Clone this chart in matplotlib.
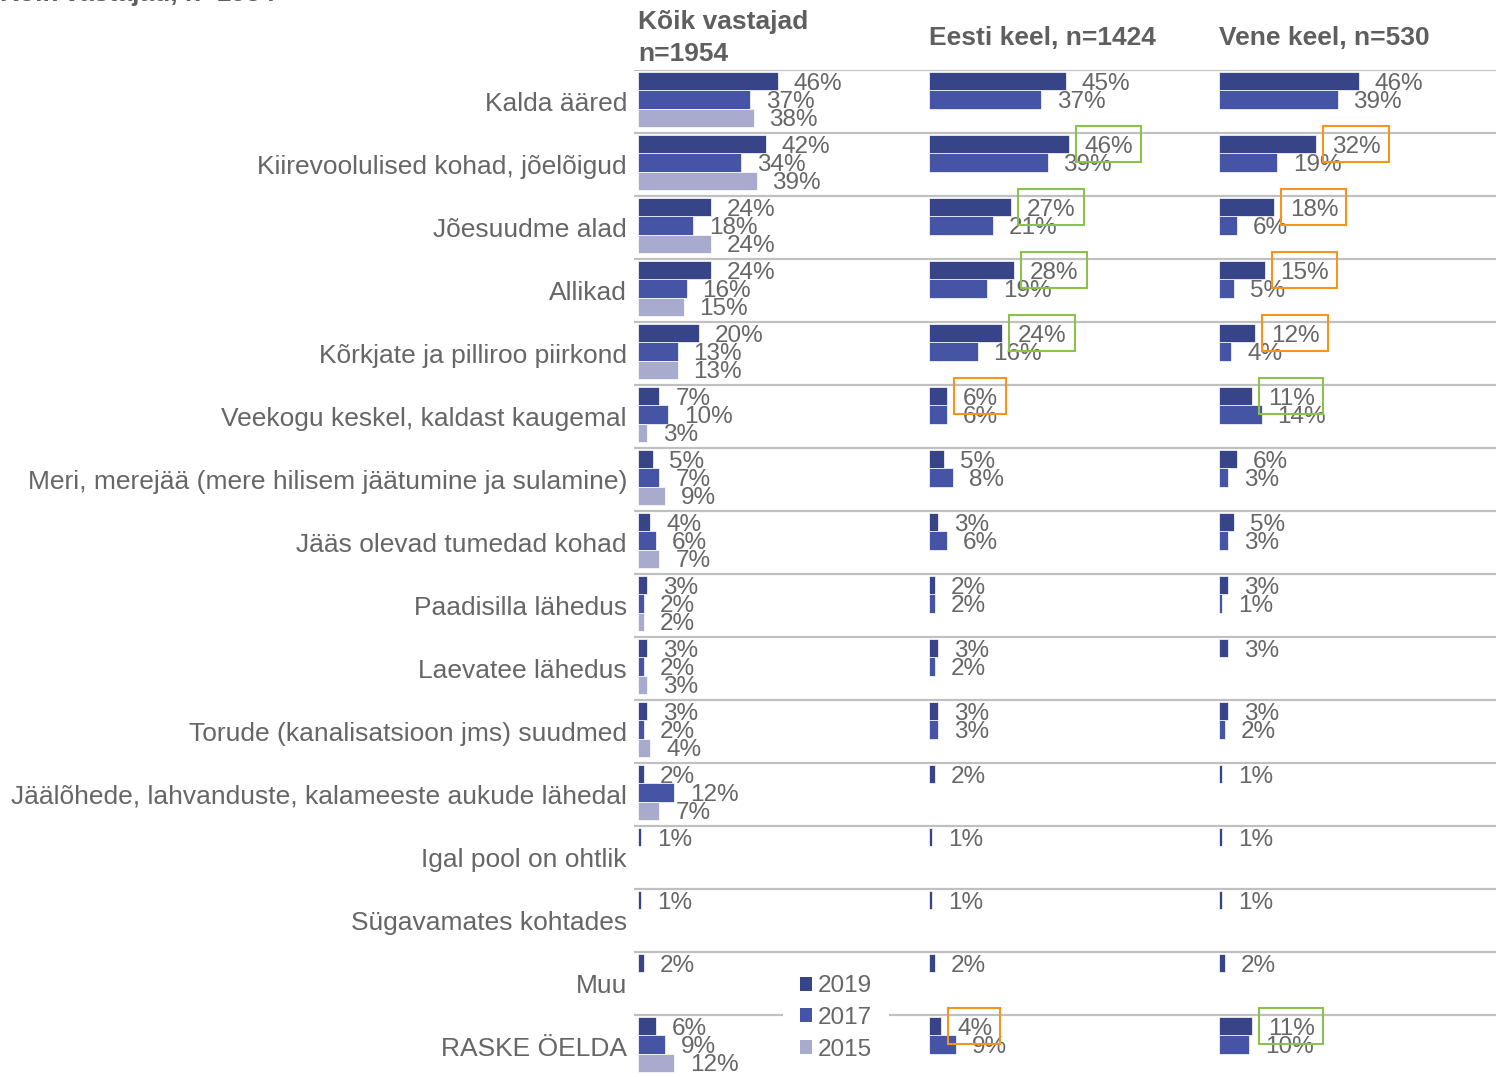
import matplotlib
matplotlib.use("Agg")
import matplotlib.pyplot as plt
from matplotlib.patches import Patch, Rectangle

plt.rcParams['font.family'] = ['Liberation Sans', 'DejaVu Sans']

categories = [
    "Kalda ääred",
    "Kiirevoolulised kohad, jõelõigud",
    "Jõesuudme alad",
    "Allikad",
    "Kõrkjate ja pilliroo piirkond",
    "Veekogu keskel, kaldast kaugemal",
    "Meri, merejää (mere hilisem jäätumine ja sulamine)",
    "Jääs olevad tumedad kohad",
    "Paadisilla lähedus",
    "Laevatee lähedus",
    "Torude (kanalisatsioon jms) suudmed",
    "Jäälõhede, lahvanduste, kalameeste aukude lähedal",
    "Igal pool on ohtlik",
    "Sügavamates kohtades",
    "Muu",
    "RASKE ÖELDA",
]
years = ["2019", "2017", "2015"]

# Kõik vastajad
all_2019 = [46, 42, 24, 24, 20, 7, 5, 4, 3, 3, 3, 2, 1, 1, 2, 6]
all_2017 = [37, 34, 18, 16, 13, 10, 7, 6, 2, 2, 2, 12, None, None, None, 9]
all_2015 = [38, 39, 24, 15, 13, 3, 9, 7, 2, 3, 4, 7, None, None, None, 12]
# Eesti keel
est_2019 = [45, 46, 27, 28, 24, 6, 5, 3, 2, 3, 3, 2, 1, 1, 2, 4]
est_2017 = [37, 39, 21, 19, 16, 6, 8, 6, 2, 2, 3, None, None, None, None, 9]
# Vene keel
rus_2019 = [46, 32, 18, 15, 12, 11, 6, 5, 3, 3, 3, 1, 1, 1, 2, 11]
rus_2017 = [39, 19, 6, 5, 4, 14, 3, 3, 1, None, 2, None, None, None, None, 10]

panel_titles = ["Kõik vastajad\nn=1954", "Eesti keel, n=1424", "Vene keel, n=530"]
panels = [[all_2019, all_2017, all_2015], [est_2019, est_2017], [rus_2019, rus_2017]]

# highlighted 2019 labels per panel: row index -> box colour
highlights = [
    {},
    {1: "green", 2: "green", 3: "green", 4: "green", 5: "orange", 15: "orange"},
    {1: "orange", 2: "orange", 3: "orange", 4: "orange", 5: "green", 15: "green"},
]

colors = ["#374588", "#4654A5", "#A8ABCE"]
box_colors = {"green": "#8BC34A", "orange": "#F7941D"}
text_gray = "#666666"
head_gray = "#5f5f5f"

W, H = 1496, 1077
fig = plt.figure(figsize=(W / 100, H / 100), dpi=100)

n = len(categories)
row_px = 63
top_px = 70
bot_px = top_px + n * row_px
px_per_pct = 3.04
lefts = [638, 929, 1219]
rights = [929, 1219, 1496]

def fig_rect(x0, x1):
    return [x0 / W, 1 - bot_px / H, (x1 - x0) / W, (bot_px - top_px) / H]

# separator lines
axbg = fig.add_axes(fig_rect(634, 1496), zorder=0)
axbg.set_ylim(n, 0)
axbg.set_xlim(0, 1)
for i in range(n):
    axbg.axhline(i, color="#C0C0C0", lw=1.6)
axbg.axis("off")

bar_off = 2 / row_px
bar_h = 18.3 / row_px

label_texts = []
for p, series in enumerate(panels):
    ax = fig.add_axes(fig_rect(lefts[p], rights[p]), zorder=1)
    ax.patch.set_alpha(0)
    ax.set_ylim(n, 0)
    ax.set_xlim(0, (rights[p] - lefts[p]) / px_per_pct)
    for s, vals in enumerate(series):
        for i, v in enumerate(vals):
            if v is None:
                continue
            yc = i + bar_off + bar_h * (s + 0.5)
            ax.barh(yc, v, height=bar_h, color=colors[s], edgecolor="white", linewidth=0.5)
            t = ax.annotate(f"{v}%", xy=(v, yc), xytext=(11.5, 0), textcoords="offset points",
                            ha="left", va="center_baseline", fontsize=17.5, color=text_gray)
            if s == 0 and i in highlights[p]:
                label_texts.append((ax, t, yc, box_colors[highlights[p][i]]))
    for sp in ax.spines.values():
        sp.set_visible(False)
    ax.set_xticks([])
    if p == 0:
        ax.set_yticks([i + 0.5 for i in range(n)])
        ax.set_yticklabels(categories, fontsize=19, color=text_gray)
        ax.tick_params(axis="y", length=0, pad=8)
    else:
        ax.set_yticks([])
    ax.annotate(panel_titles[p], xy=(0, 1), xycoords="axes fraction", xytext=(0, 23),
                textcoords="offset points", ha="left", va="center", fontsize=19,
                fontweight="bold", color=head_gray, linespacing=1.38)

# cut-off title at the very top
fig.text(0.0, 1 - 0.8 / H, "Kõik vastajad, n=1954", fontsize=19, fontweight="bold",
         color=head_gray, ha="left", va="baseline")

handles = [Patch(facecolor=c, edgecolor="none") for c in colors]
fig.legend(handles, years, loc="center", bbox_to_anchor=(836 / W, 1 - 1018 / H),
           frameon=True, facecolor="white", edgecolor="none", framealpha=1, fancybox=False,
           fontsize=17.5, handlelength=0.5, handleheight=0.5, handletextpad=0.25,
           labelspacing=0.4, borderpad=0.7, labelcolor=text_gray)

# boxes around highlighted labels
fig.canvas.draw()
inv = fig.transFigure.inverted()
for ax, t, yc, col in label_texts:
    bb = t.get_window_extent()
    ycd = ax.transData.transform((0, yc))[1]
    x0, y0 = inv.transform((bb.x0 - 9, ycd - 18))
    x1, y1 = inv.transform((bb.x1 + 8, ycd + 18))
    fig.add_artist(Rectangle((x0, y0), x1 - x0, y1 - y0, transform=fig.transFigure,
                             fill=False, edgecolor=col, lw=1.5, zorder=6))

fig.savefig("out.png", dpi=100)
